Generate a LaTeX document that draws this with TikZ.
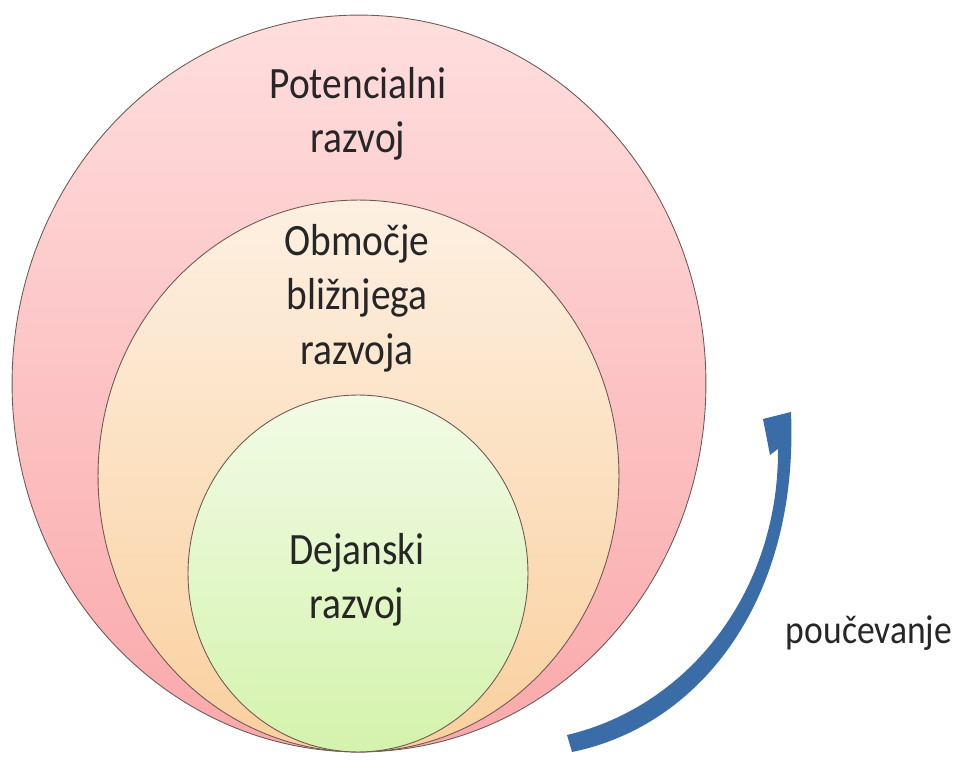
\documentclass[tikz,border=0pt]{standalone}
\usepackage{fontspec}
\setmainfont[FakeStretch=0.88]{Carlito}
\usetikzlibrary{shapes.geometric}

\newcommand\razvojtextstyle{\fontsize{25.5}{31}\selectfont}
\newcommand\poucevanjetextstyle{\fontsize{23}{27}\selectfont}
\definecolor{potentop}{RGB}{255,222,222}
\definecolor{potenbot}{RGB}{250,168,170}
\definecolor{obmtop}{RGB}{253,240,226}
\definecolor{obmbot}{RGB}{250,208,158}
\definecolor{dejtop}{RGB}{242,251,230}
\definecolor{dejbot}{RGB}{212,243,172}
\definecolor{rob}{RGB}{110,90,85}
\definecolor{puscica}{RGB}{58,108,168}
\tikzset{
  krog/.style={ellipse, draw=rob, line width=0.5pt, inner sep=0pt},
  napis/.style={align=center, text=black!85, font=\razvojtextstyle}
}

\begin{document}
\begin{tikzpicture}[x=0.02cm, y=-0.02cm]
    \useasboundingbox (0,0) rectangle (965,763);
    % krogi
    \node[krog, top color=potentop, bottom color=potenbot,
      minimum width=13.88cm, minimum height=14.74cm] (poten) at (359,383.5) {};
    \node[krog, top color=obmtop, bottom color=obmbot,
      minimum width=10.42cm, minimum height=11.04cm] (obm) at (358.5,476) {};
    \node[krog, top color=dejtop, bottom color=dejbot,
      minimum width=6.8cm, minimum height=7.14cm] (dej) at (358,573.5) {};
    % napisi
    \node[napis] (potentext) at (358,114) {Potencialni\\razvoj};
    \node[napis] (obmtext) at (357,298) {Območje\\bližnjega\\razvoja};
    \node[napis] (dejtext) at (357,580) {Dejanski\\razvoj};
    \node[font=\poucevanjetextstyle, text=black!85] (pouc) at (869,633) {poučevanje};
    % puscica
    \coordinate (rep) at (572,752);
    \coordinate (konica) at (791,412);
    \fill[puscica] (rep) .. controls (700,726) and (799,600) .. (konica)
      -- (763,419) -- (770,455) -- (778,449)
      .. controls (779,590) and (690,706) .. (567,735) -- cycle;
\end{tikzpicture}
\end{document}
